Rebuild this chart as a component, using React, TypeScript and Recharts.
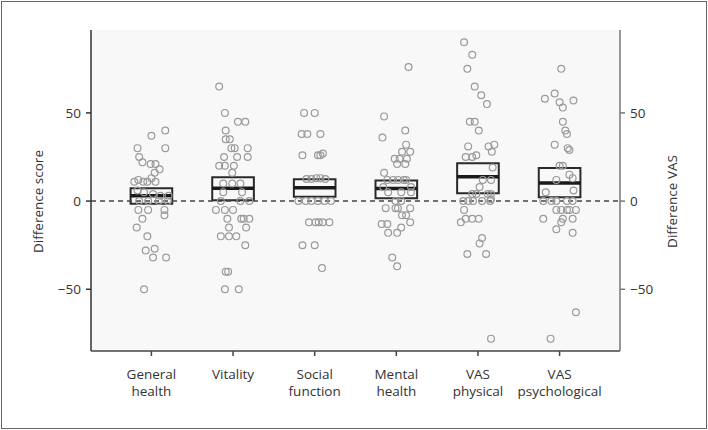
import {
  ComposedChart,
  Scatter,
  XAxis,
  YAxis,
  CartesianGrid,
  ReferenceLine,
  ReferenceArea,
} from 'recharts';

// categories along the x axis
const categories = [
  'General health',
  'Vitality',
  'Social function',
  'Mental health',
  'VAS physical',
  'VAS psychological',
];

// individual difference scores: [horizontal jitter, value]
const generalHealth = [
  [0.17, 40], [0, 37], [0.17, 30], [-0.17, 30], [-0.15, 25], [-0.11, 22], [-0.01, 21], [0.05, 21],
  [0.1, 18], [0.04, 16], [0, 13], [-0.16, 12], [-0.21, 11], [-0.1, 11], [-0.05, 11], [0.05, 11],
  [-0.17, 6], [-0.09, 5], [0.02, 4], [0.11, 3], [0.21, 3], [-0.15, 0], [-0.04, 0], [0.09, 0],
  [0.2, 0], [-0.16, -5], [-0.04, -5], [0.16, -5], [0.16, -8], [-0.11, -10], [-0.18, -15],
  [-0.05, -20], [-0.07, -28], [0.04, -27], [0.02, -32], [0.18, -32], [-0.09, -50],
];
const vitality = [
  [-0.17, 65], [-0.1, 50], [0.06, 45], [0.15, 45], [-0.09, 40], [-0.09, 35], [-0.04, 35], [-0.02, 30],
  [0.02, 30], [0.18, 30], [-0.11, 25], [0.05, 25], [0.18, 25], [-0.17, 20], [-0.1, 20], [0.01, 20],
  [-0.01, 16], [-0.12, 10], [-0.01, 10], [0.09, 10], [-0.12, 5], [0.11, 5], [-0.15, 0], [0.09, 0],
  [0.2, 0], [-0.21, -5], [-0.1, -5], [0, -5], [-0.07, -10], [0.1, -10], [0.13, -10], [0.2, -10],
  [-0.05, -15], [0.16, -15], [-0.15, -20], [-0.05, -20], [0.04, -20], [0.15, -25], [-0.09, -40],
  [-0.06, -40], [-0.1, -50], [0.07, -50],
];
const socialFunction = [
  [-0.13, 50], [0, 50], [-0.16, 38], [-0.09, 38], [0.07, 38], [-0.15, 26], [0.04, 26], [0.07, 26],
  [0.1, 27], [-0.1, 12.5], [-0.04, 12.5], [0.02, 13], [0.07, 13], [0.13, 12.5], [-0.2, 0], [-0.11, 0],
  [-0.04, 0], [0.04, 0], [0.12, 0], [0.2, 0], [-0.07, -12], [0.01, -12], [0.05, -12], [0.1, -12],
  [0.18, -12], [-0.15, -25], [0, -25], [0.09, -38],
];
const mentalHealth = [
  [0.15, 76], [-0.15, 48], [-0.17, 36], [0.11, 40], [0.12, 32], [0.07, 28], [0.17, 28], [-0.02, 24],
  [0.04, 24], [0.13, 24], [0.01, 21], [0.11, 21], [-0.15, 16], [-0.11, 12], [-0.04, 12], [0.02, 12],
  [0.09, 12], [0.12, 12], [-0.16, 8], [0.18, 8], [-0.1, 5], [0.06, 5], [0.18, 5], [-0.01, 0],
  [0.06, 0], [-0.13, -4], [-0.01, -4], [0.02, -4], [0.17, -4], [0.07, -8], [0.12, -8], [0.17, -12],
  [-0.18, -13], [-0.11, -13], [-0.1, -18], [0.01, -18], [0.06, -15], [-0.05, -32], [0.01, -37],
];
const vasPhysical = [
  [-0.17, 90], [-0.07, 83], [-0.13, 75], [-0.04, 65], [0.04, 60], [0.11, 55], [-0.1, 45], [-0.04, 45],
  [0.01, 40], [-0.12, 31], [0.13, 31], [0.2, 32], [-0.15, 25], [-0.07, 25], [-0.02, 26], [0.17, 28],
  [0.18, 19], [0.16, 12], [0.06, 12], [0.02, 8], [-0.07, 4], [-0.02, 4], [0.12, 4], [0.16, 4],
  [-0.18, 0], [-0.12, 0], [-0.06, 0], [0.05, 0], [0.15, 0], [0.16, 1], [-0.17, -5], [-0.15, -10],
  [-0.07, -10], [0.01, -10], [-0.21, -12], [0.05, -21], [0.02, -24], [-0.13, -30], [0.1, -30],
  [0.16, -78],
];
const vasPsychological = [
  [0.02, 75], [-0.18, 58], [-0.06, 61], [0, 56], [0.04, 53], [0.17, 57], [0.04, 45], [0.07, 40],
  [0.09, 38], [-0.06, 32], [0.1, 30], [0.12, 29], [0, 20], [0.04, 20], [0.12, 15], [0.16, 13],
  [-0.04, 12], [-0.17, 5], [0.17, 6], [-0.2, 0], [-0.1, 0], [-0.04, 0], [0.09, 0], [0.16, 0],
  [-0.04, -5], [0.02, -5], [0.09, -5], [0.12, -5], [0.2, -5], [-0.2, -10], [0.04, -10], [0.16, -10],
  [-0.04, -16], [0.02, -12], [0.16, -18], [0.2, -63], [-0.11, -78],
];

const scores = [generalHealth, vitality, socialFunction, mentalHealth, vasPhysical, vasPsychological];

// box: lower bound, middle line, upper bound
const boxLow = [-1.5, 0.5, 2.4, 1.6, 4.4, 2.2];
const boxMid = [3, 7.3, 7.6, 7.2, 13.8, 10.3];
const boxHigh = [7.3, 13.5, 12.4, 11.7, 21.5, 18.8];

const yTicks = [-50, 0, 50];
const xTicks = [1, 2, 3, 4, 5, 6];

const BOX_HALF = 0.255;
const FONT = '"Open Sans", "DejaVu Sans", sans-serif';

const fmtY = (v: number) => (v < 0 ? `\u2212${-v}` : `${v}`);

function CategoryTick({ x, y, payload }: any) {
  const lines = categories[payload.value - 1].split(' ');
  return (
    <text x={x} y={y} textAnchor="middle" fill="#333" fontSize={13.5} fontFamily={FONT}>
      {lines.map((line, i) => (
        <tspan key={i} x={x} dy={i === 0 ? 21 : 17}>
          {line}
        </tspan>
      ))}
    </text>
  );
}

function axisTitle(text: string, shift: number) {
  return (props: any) => {
    const vb = props.viewBox;
    const cx = vb.x + shift;
    const cy = vb.y + vb.height / 2 + 11;
    return (
      <text
        x={cx}
        y={cy}
        transform={`rotate(-90, ${cx}, ${cy})`}
        textAnchor="middle"
        dominantBaseline="central"
        fill="#333"
        fontSize={13.5}
        fontFamily={FONT}
      >
        {text}
      </text>
    );
  };
}

const CircleDot = (props: any) => (
  <circle cx={props.cx} cy={props.cy} r={3.4} fill="none" stroke="#9a9a9a" strokeWidth={1.2} />
);

export default function App() {
  return (
    <div
      style={{
        position: 'absolute',
        left: 0,
        top: 0,
        width: 708,
        height: 430,
        background: '#fff',
        fontFamily: FONT,
      }}
    >
      <div
        style={{
          position: 'absolute',
          left: 1,
          top: 1,
          width: 704,
          height: 426,
          border: '1px solid #666',
        }}
      />
      <ComposedChart
        width={708}
        height={430}
        margin={{ top: 30, right: 38, bottom: 49, left: 41 }}
        style={{ position: 'absolute', left: 0, top: 0 }}
      >
        <CartesianGrid yAxisId="left" horizontal={false} vertical={false} fill="#f8f8f8" />
        <XAxis
          type="number"
          dataKey="x"
          domain={[0.26, 6.74]}
          ticks={xTicks}
          allowDataOverflow
          height={30}
          tick={<CategoryTick />}
          tickSize={5}
          tickLine={{ stroke: '#444', strokeWidth: 1.5 }}
          axisLine={{ stroke: '#444', strokeWidth: 1.5 }}
        />
        <YAxis
          yAxisId="left"
          type="number"
          dataKey="y"
          domain={[-85, 97]}
          ticks={yTicks}
          allowDataOverflow
          width={50}
          tickFormatter={fmtY}
          tick={{ fill: '#333', fontSize: 13.5 }}
          tickSize={5}
          tickMargin={5}
          tickLine={{ stroke: '#333', strokeWidth: 1.5 }}
          axisLine={{ stroke: '#333', strokeWidth: 1.5 }}
          label={{ value: 'Difference score', content: axisTitle('Difference score', -3) }}
        />
        <YAxis
          yAxisId="right"
          orientation="right"
          type="number"
          domain={[-85, 97]}
          ticks={yTicks}
          allowDataOverflow
          width={50}
          tickFormatter={fmtY}
          tick={{ fill: '#333', fontSize: 13.5 }}
          tickSize={5}
          tickMargin={5}
          tickLine={{ stroke: '#777', strokeWidth: 1.5 }}
          axisLine={{ stroke: '#777', strokeWidth: 1.5 }}
          label={{ value: 'Difference VAS', content: axisTitle('Difference VAS', 52) }}
        />
        <ReferenceLine yAxisId="left" y={0} stroke="#444" strokeWidth={1.5} strokeDasharray="5 4" />
        {scores.map((arr, i) => (
          <Scatter
            key={categories[i]}
            yAxisId="left"
            data={arr.map(([dx, v]) => ({ x: i + 1 + dx, y: v }))}
            shape={CircleDot}
            isAnimationActive={false}
          />
        ))}
        {categories.map((c, i) => (
          <ReferenceArea
            key={`box-${c}`}
            yAxisId="left"
            x1={i + 1 - BOX_HALF}
            x2={i + 1 + BOX_HALF}
            y1={boxLow[i]}
            y2={boxHigh[i]}
            fill="none"
            fillOpacity={0}
            stroke="#2a2a2a"
            strokeWidth={2}
          />
        ))}
        {categories.map((c, i) => (
          <ReferenceLine
            key={`mid-${c}`}
            yAxisId="left"
            segment={[
              { x: i + 1 - BOX_HALF, y: boxMid[i] },
              { x: i + 1 + BOX_HALF, y: boxMid[i] },
            ]}
            stroke="#1a1a1a"
            strokeWidth={3.5}
          />
        ))}
      </ComposedChart>
    </div>
  );
}
